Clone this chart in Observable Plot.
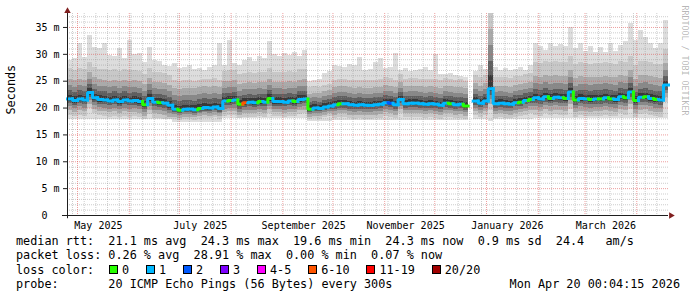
<!DOCTYPE html>
<html><head><meta charset="utf-8">
<script src="https://cdn.jsdelivr.net/npm/d3@7"></script>
<script src="https://cdn.jsdelivr.net/npm/@observablehq/plot@0.6"></script>
<style>
html,body{margin:0;padding:0;background:#fff;}
body{width:697px;height:297px;position:relative;overflow:hidden;font-family:"DejaVu Sans Mono",monospace;color:#000;}
#chart{position:absolute;left:0;top:0;}
.row{position:absolute;font-size:11.8px;line-height:14px;white-space:pre;}
.box{position:absolute;width:9px;height:9px;box-sizing:border-box;border:1px solid #000;}
</style></head><body>
<div id="chart"></div>
<div id="legend"></div>
<script>
// ---- data (3-day steps from 2025-04-25 to 2026-04-20) ----
const startDate = "2025-04-25";
const endDate = "2026-04-20";
const stepDays = 3;

// median rtt per step (ms)
const med = [
21.7,21.4,21.7,21.5,22.9,21.9,21.6,21.5,21.3,21.5,
21.2,21.5,21.3,21.4,21.2,20.6,21.8,21.1,21.0,20.9,
20.5,19.8,19.6,19.8,19.8,19.7,19.9,20.1,20.0,20.2,
19.9,21.3,21.4,21.5,20.7,21.0,21.1,21.0,21.2,21.1,
21.8,21.2,21.2,21.1,21.3,21.2,21.6,21.7,19.8,20.0,
19.9,20.2,20.4,20.6,20.8,20.8,20.6,20.5,20.6,20.5,
20.5,20.6,20.7,21.0,20.9,20.6,21.6,20.8,20.9,20.9,
20.8,20.7,20.8,20.7,20.5,20.9,20.8,20.6,20.7,20.4,
null,21.3,20.9,21.3,23.6,20.8,20.9,20.8,20.7,21.0,
21.1,21.4,21.6,21.9,21.7,22.1,21.8,22.0,21.9,21.8,
23.0,21.5,21.8,21.7,21.6,21.7,21.7,21.9,21.7,21.6,
22.1,21.9,23.0,21.4,22.0,22.1,21.8,21.6,21.5,24.3
];
// slowest ping per step (top of smoke, ms)
const pmax = [
28.9,29.3,32.0,29.5,33.5,31.2,31.0,32.0,29.8,29.6,
31.0,29.2,32.6,30.0,30.2,28.5,31.3,28.9,28.6,27.9,
27.8,28.3,27.4,27.5,28.0,27.2,27.4,27.0,27.5,28.0,
32.0,28.0,32.6,28.3,28.0,28.8,29.4,28.6,29.6,29.2,
32.3,30.0,29.6,30.2,29.8,30.4,29.6,30.8,25.0,25.2,
25.4,26.5,26.8,28.0,27.8,27.6,28.2,27.9,29.5,27.0,
27.2,28.5,29.2,27.4,27.6,30.1,27.0,27.4,26.8,27.0,
27.2,27.6,27.0,30.0,26.3,26.2,26.4,26.0,25.8,25.6,
null,26.8,28.0,27.2,37.6,27.5,27.0,27.4,26.9,27.2,
27.6,27.0,28.0,32.0,31.5,30.8,32.0,31.4,31.8,31.4,
35.0,31.0,32.0,30.6,31.4,30.4,31.2,30.3,32.0,30.6,
31.6,32.4,35.7,32.6,34.4,33.2,32.0,31.0,32.0,36.3
];
// loss class per step (index into lossLabels)
const loss = [
1,1,1,1,1,1,1,1,1,1,
1,1,1,1,1,0,1,1,0,1,
1,1,0,1,1,1,0,1,1,1,
1,1,0,1,0,5,1,1,0,1,
0,1,1,1,1,0,1,1,0,1,
1,1,1,1,0,1,1,1,1,1,
1,1,1,1,2,1,1,1,1,1,
1,1,1,1,1,1,0,1,1,0,
1,1,1,1,1,1,1,1,1,1,
0,1,0,1,1,1,0,1,1,0,
1,0,1,1,0,1,0,1,0,1,
1,0,1,0,1,0,1,0,1,1
];
// smoke spread per period: fastest ping (ms) and band distances from the median (ms)
const segStart = [0, 21, 31, 48, 53, 80, 84, 85, 93];
const segMin   = [17.8,17.4,18.0,17.5,17.7,17.8,17.5,17.8,18.0];
const up2 = [5.6,5.3,5.5,4.0,4.6,4.8,14.0,4.8,6.6];
const up3 = [3.7,3.9,3.6,2.8,3.2,3.2,11.0,3.2,4.0];
const up4 = [2.5,2.6,2.4,1.9,2.1,2.1,8.0,2.1,2.6];
const up5 = [1.5,1.6,1.4,1.2,1.3,1.3,5.0,1.3,1.5];
const up6 = [0.7,0.7,0.7,0.6,0.6,0.6,2.5,0.6,0.7];
const dn2 = [3.0,2.0,2.8,2.0,2.6,2.7,4.0,2.7,3.2];
const dn3 = [2.2,1.5,2.1,1.5,1.9,2.0,3.0,2.0,2.4];
const dn4 = [1.5,1.0,1.5,1.0,1.3,1.4,2.0,1.4,1.6];
const dn5 = [0.9,0.7,0.9,0.6,0.8,0.8,1.3,0.8,1.0];
const dn6 = [0.5,0.4,0.5,0.4,0.4,0.4,0.6,0.4,0.5];

const yTicks = [0, 5, 10, 15, 20, 25, 30, 35];
const yTickLabels = ["0\u00a0\u00a0", "5 m", "10 m", "15 m", "20 m", "25 m", "30 m", "35 m"];
const xTickDates = ["2025-05-13T12:00Z","2025-07-13T12:00Z","2025-09-13T12:00Z","2025-11-13T12:00Z","2026-01-13T12:00Z","2026-03-13T12:00Z"];
const xTickLabels = ["May 2025","July 2025","September 2025","November 2025","January 2026","March 2026"];

const lossLabels = ["0","1","2","3","4-5","6-10","11-19","20/20"];
const lossColors = ["#26ff00","#00b8ff","#0059ff","#7e00ff","#ff00ff","#ff5500","#ff0000","#a10000"];
const smokeColors = ["#dddddd","#c8c8c8","#aaaaaa","#888888","#5f5f5f","#383838"];

const legendRows = [
  "median rtt:  21.1 ms avg  24.3 ms max  19.6 ms min  24.3 ms now  0.9 ms sd  24.4   am/s",
  "packet loss: 0.26 % avg  28.91 % max  0.00 % min  0.07 % now",
  "loss color:",
  "probe:       20 ICMP Echo Pings (56 Bytes) every 300s"
];
const stamp = "Mon Apr 20 00:04:15 2026";
const watermark = "RRDTOOL / TOBI OETIKER";
const yLabel = "Seconds";

// ---- build ----
const DAY = 864e5;
const t0 = Date.parse(startDate + "T00:00Z");
const tEnd = Date.parse(endDate + "T00:00Z");
const at = k => new Date(t0 + k * stepDays * DAY);
const segOf = k => { let s = 0; segStart.forEach((v, i) => { if (k >= v) s = i; }); return s; };
const rows = med.map((m, k) => ({k, a: at(k), b: at(k + 1), m, mx: pmax[k], s: segOf(k)})).filter(d => d.m != null);
const ups = [null, up2, up3, up4, up5, up6];
const dns = [null, dn2, dn3, dn4, dn5, dn6];

const smoke = smokeColors.map((c, j) => Plot.rect(rows, {
  x1: "a", x2: "b",
  y1: d => j === 0 ? segMin[d.s] : Math.max(segMin[d.s], d.m - dns[j][d.s]),
  y2: d => j === 0 ? d.mx : Math.min(d.mx, d.m + ups[j][d.s]),
  fill: c, inset: 0, shapeRendering: "crispEdges"
}));

const medPts = [];
rows.forEach(d => {
  const prev = med[d.k - 1] == null ? d.m : med[d.k - 1];
  const c = lossColors[loss[d.k]];
  medPts.push({k: d.k, t: d.a, v: prev, c}, {k: d.k, t: d.a, v: d.m, c}, {k: d.k, t: d.b, v: d.m, c});
});

const minorY = d3.range(1, 38).filter(v => v % 5 !== 0);
const majorY = yTicks.filter(v => v > 0);
const months = d3.utcMonth.range(new Date(t0), new Date(tEnd));
const weeks = d3.utcMonday.range(new Date(t0), new Date(tEnd)).filter(d => d.getUTCDate() !== 1);
const gridMinor = {stroke: "#8f8f8f", strokeOpacity: 0.45, strokeDasharray: "1,1"};
const gridMajor = {stroke: "#de4f4f", strokeOpacity: 0.55, strokeDasharray: "1,1"};

const chart = Plot.plot({
  width: 697, height: 232,
  marginLeft: 67, marginRight: 29, marginTop: 13, marginBottom: 17,
  x: {type: "utc", domain: [new Date(t0), new Date(tEnd)]},
  y: {domain: [0, 37.6]},
  color: {type: "identity"},
  style: {background: "#fff", fontFamily: "'DejaVu Sans Mono', monospace", overflow: "visible", color: "#000"},
  marks: [
    ...smoke,
    Plot.ruleY(minorY, gridMinor),
    Plot.ruleX(weeks, gridMinor),
    Plot.ruleY(majorY, gridMajor),
    Plot.ruleX(months, gridMajor),
    Plot.line(medPts, {x: "t", y: "v", z: "k", stroke: "c", strokeWidth: 3, strokeLinecap: "square", strokeLinejoin: "miter"}),
    Plot.ruleY([0], {x1: new Date(t0 - 3 * DAY), x2: new Date(tEnd), stroke: "#1f1f1f"}),
    Plot.ruleX([new Date(t0)], {y1: -0.6, y2: 37.6, stroke: "#1f1f1f"}),
    Plot.dot([0], {x: new Date(t0), y: 38.05, symbol: "triangle", r: 2.4, fill: "#801f1f", stroke: "none"}),
    Plot.dot([0], {x: new Date(tEnd + 1.5 * DAY), y: 0, symbol: "triangle", r: 2.4, fill: "#801f1f", stroke: "none", rotate: 90}),
    Plot.axisY(yTicks, {tickFormat: d => yTickLabels[yTicks.indexOf(d)], tickSize: 4, tickPadding: 4, fontSize: 10, label: null, stroke: "#1f1f1f"}),
    Plot.axisX(xTickDates.map(s => new Date(s)), {tickFormat: (d, i) => xTickLabels[xTickDates.findIndex(s => +new Date(s) === +d)], tickSize: 0, tickPadding: 6, fontSize: 10, label: null}),
    Plot.text([yLabel], {frameAnchor: "left", dx: -56, rotate: -90, fontSize: 11.8, fill: "#000"}),
    Plot.text([watermark], {frameAnchor: "top-right", dx: 19, dy: -8, rotate: 90, textAnchor: "start", fontSize: 8.3, fill: "#000", fillOpacity: 0.3})
  ]
});
document.getElementById("chart").appendChild(chart);

// ---- legend ----
const legend = document.getElementById("legend");
const baselines = [245, 259.4, 273.8, 288.2];
const addRow = (txt, left, base, right) => {
  const el = document.createElement("div");
  el.className = "row";
  el.textContent = txt;
  el.style.top = (base - 11.1) + "px";
  if (right != null) { el.style.right = right + "px"; el.style.textAlign = "right"; }
  else el.style.left = left + "px";
  legend.appendChild(el);
};
legendRows.forEach((r, i) => addRow(r, 16, baselines[i]));
addRow(stamp, null, baselines[3], 17);
let bx = 109;
lossLabels.forEach((lab, i) => {
  const b = document.createElement("div");
  b.className = "box";
  b.style.left = bx + "px";
  b.style.top = (baselines[2] - 9) + "px";
  b.style.background = lossColors[i];
  legend.appendChild(b);
  addRow(lab, bx + 13, baselines[2]);
  bx += 37 + 7.08 * (lab.length - 1);
});
</script>
</body></html>
